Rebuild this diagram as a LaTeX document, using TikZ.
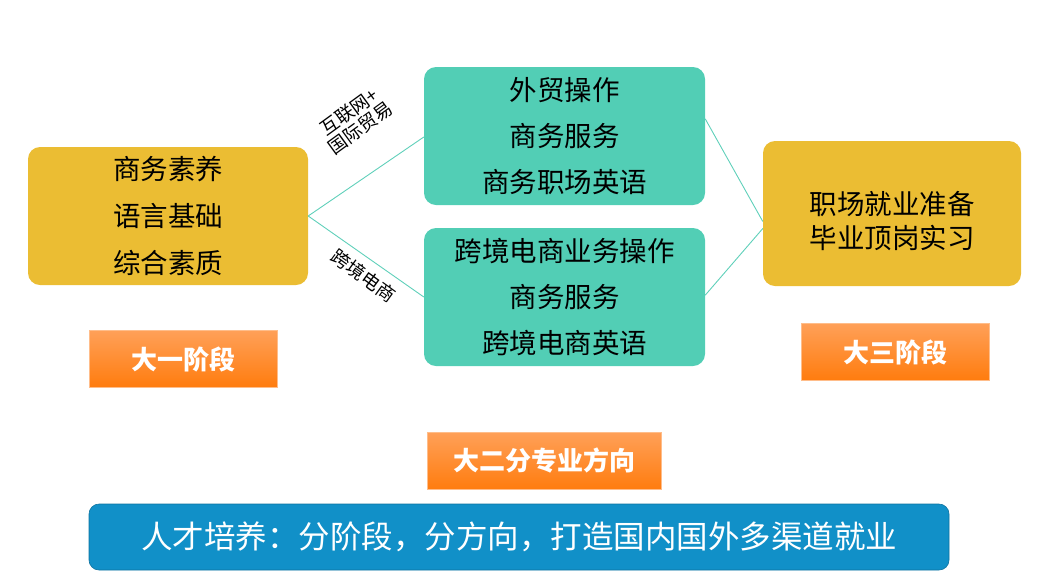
\documentclass[tikz,border=0pt]{standalone}
\usepackage{fontspec}
\newfontfamily\cjk{Noto Sans CJK SC}
\definecolor{stagegold}{RGB}{235,189,51}
\definecolor{trackteal}{RGB}{82,206,181}
\definecolor{linkteal}{RGB}{95,208,186}
\definecolor{tagtop}{RGB}{255,160,88}
\definecolor{tagbottom}{RGB}{255,124,14}
\definecolor{goalblue}{RGB}{17,144,200}
\usetikzlibrary{calc}
\tikzset{
  stagebox/.style={rectangle,rounded corners=12pt,fill=stagegold,
                   minimum width=#1,align=center,text=black,
                   font=\cjk\fontsize{27.5}{47}\selectfont},
  stagebox/.default=280pt,
  trackbox/.style={rectangle,rounded corners=12pt,fill=trackteal,
                   minimum width=281pt,minimum height=138pt,align=center,
                   text=black,font=\cjk\fontsize{27.5}{46}\selectfont},
  tag/.style={rectangle,top color=tagtop,bottom color=tagbottom,
              draw=tagtop!70!white,line width=0.6pt,minimum height=57pt,
              text=white,font=\cjk\bfseries\fontsize{26}{30}\selectfont},
  link/.style={linkteal,line width=0.9pt},
  linklabel/.style={font=\cjk\fontsize{18.5}{20}\selectfont,align=center},
}

\begin{document}
\begin{tikzpicture}[x=1pt,y=-1pt]
    \useasboundingbox (0,0) rectangle (1038,587);

    % Year 1
    \node[stagebox,minimum height=138pt] (first) at (168,216)
        {商务素养\\语言基础\\综合素质};
    \node[tag,minimum width=188pt] (firsttag) at (183,359) {大一阶段};

    % Year 2: two tracks
    \node[trackbox] (tradetrack) at (564.5,136)
        {外贸操作\\商务服务\\商务职场英语};
    \node[trackbox] (ectrack) at (564.5,297)
        {跨境电商业务操作\\商务服务\\跨境电商英语};
    \node[tag,minimum width=234pt] (secondtag) at (544,461) {大二分专业方向};

    % Year 3
    \node[stagebox=258pt,minimum height=145pt] (third) at (892,213.5) {};
    \node[align=center,font=\cjk\fontsize{27.5}{34}\selectfont]
        (thirdtext) at (892,221) {职场就业准备\\毕业顶岗实习};
    \node[tag,minimum width=188pt] (thirdtag) at (895,352) {大三阶段};

    % Goal
    \node[rectangle,rounded corners=10pt,fill=goalblue,draw=goalblue!80!black,
          line width=0.6pt,minimum width=860pt,minimum height=66pt,text=white,
          font=\cjk\fontsize{31.5}{34}\selectfont] (goal) at (519,537)
        {人才培养：分阶段，分方向，打造国内国外多渠道就业};

    % Connectors
    \coordinate (split) at (first.east);
    \draw[link] (split) -- ($(tradetrack.west)+(0,1)$);
    \draw[link] (split) -- ($(ectrack.west)+(0,0)$);
    \draw[link] ($(tradetrack.north east)+(0,52)$) -- ($(third.west)+(0,8)$);
    \draw[link] ($(ectrack.south east)+(0,-71)$) -- ($(third.west)+(0,15)$);

    % Track labels
    \node[linklabel,rotate=36] (tradelabel) at (355,120) {互联网+\\国际贸易};
    \node[linklabel,rotate=-36] (eclabel) at (364,276) {跨境电商};

  \end{tikzpicture}
\end{document}
